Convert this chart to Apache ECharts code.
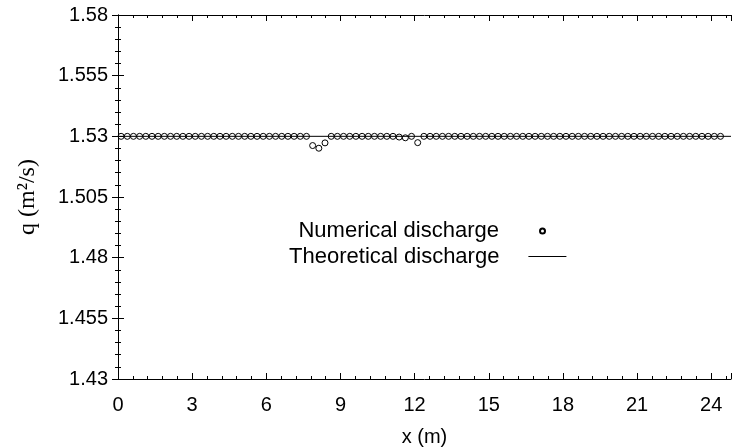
<!DOCTYPE html>
<html>
<head>
<meta charset="utf-8">
<script src="https://cdn.jsdelivr.net/npm/echarts@6/dist/echarts.min.js"></script>
<style>
  html, body { margin: 0; padding: 0; background: #fff; }
  #chart { width: 732px; height: 448px; }
</style>
</head>
<body>
<div id="chart"></div>
<script>
// Cell-centre positions along the channel (m)
const xPos = [
  0.125, 0.375, 0.625, 0.875, 1.125, 1.375, 1.625, 1.875, 2.125, 2.375,
  2.625, 2.875, 3.125, 3.375, 3.625, 3.875, 4.125, 4.375, 4.625, 4.875,
  5.125, 5.375, 5.625, 5.875, 6.125, 6.375, 6.625, 6.875, 7.125, 7.375,
  7.625, 7.875, 8.125, 8.375, 8.625, 8.875, 9.125, 9.375, 9.625, 9.875,
  10.125, 10.375, 10.625, 10.875, 11.125, 11.375, 11.625, 11.875, 12.125, 12.375,
  12.625, 12.875, 13.125, 13.375, 13.625, 13.875, 14.125, 14.375, 14.625, 14.875,
  15.125, 15.375, 15.625, 15.875, 16.125, 16.375, 16.625, 16.875, 17.125, 17.375,
  17.625, 17.875, 18.125, 18.375, 18.625, 18.875, 19.125, 19.375, 19.625, 19.875,
  20.125, 20.375, 20.625, 20.875, 21.125, 21.375, 21.625, 21.875, 22.125, 22.375,
  22.625, 22.875, 23.125, 23.375, 23.625, 23.875, 24.125, 24.375
];

// Computed unit discharge at each cell (m^2/s)
const numericalQ = [
  1.53, 1.53, 1.53, 1.53, 1.53, 1.53, 1.53, 1.53, 1.53, 1.53,
  1.53, 1.53, 1.53, 1.53, 1.53, 1.53, 1.53, 1.53, 1.53, 1.53,
  1.53, 1.53, 1.53, 1.53, 1.53, 1.53, 1.53, 1.53, 1.53, 1.53,
  1.53, 1.5262, 1.5251, 1.5273, 1.53, 1.53, 1.53, 1.53, 1.53, 1.53,
  1.53, 1.53, 1.53, 1.53, 1.53, 1.5297, 1.5294, 1.53, 1.5274, 1.53,
  1.53, 1.53, 1.53, 1.53, 1.53, 1.53, 1.53, 1.53, 1.53, 1.53,
  1.53, 1.53, 1.53, 1.53, 1.53, 1.53, 1.53, 1.53, 1.53, 1.53,
  1.53, 1.53, 1.53, 1.53, 1.53, 1.53, 1.53, 1.53, 1.53, 1.53,
  1.53, 1.53, 1.53, 1.53, 1.53, 1.53, 1.53, 1.53, 1.53, 1.53,
  1.53, 1.53, 1.53, 1.53, 1.53, 1.53, 1.53, 1.53
];

// Theoretical (constant) discharge line
const theoryX = [0, 24.8];
const theoryQ = [1.53, 1.53];

// Axis ranges and steps
const xRange = [0, 24.8];
const xStep = 3;
const yRange = [1.43, 1.58];
const yStep = 0.025;

const SANS = 'Liberation Sans';
const SERIF = 'Liberation Serif';

const chart = echarts.init(document.getElementById('chart'), null, { renderer: 'canvas' });

const baseAxisLine = { show: true, lineStyle: { color: '#000', width: 1 } };
const baseTick = { show: true, inside: true, length: 6, lineStyle: { color: '#000', width: 1 } };
const baseMinor = { show: true, splitNumber: 5, length: 3, lineStyle: { color: '#000', width: 1 } };

const option = {
  animation: false,
  backgroundColor: '#fff',
  grid: { left: 118, right: 1, top: 15, bottom: 69, containLabel: false, outerBoundsMode: 'none' },
  xAxis: [
    {
      type: 'value', position: 'bottom', min: xRange[0], max: xRange[1], interval: xStep,
      axisLine: baseAxisLine, axisTick: baseTick, minorTick: baseMinor,
      splitLine: { show: false },
      axisLabel: { color: '#000', fontFamily: SANS, fontSize: 20, margin: 16, showMaxLabel: false },
      name: 'x (m)', nameLocation: 'middle', nameGap: 48,
      nameTextStyle: { color: '#000', fontFamily: SANS, fontSize: 20 }
    },
    {
      type: 'value', position: 'top', min: xRange[0], max: xRange[1], interval: xStep,
      axisLine: baseAxisLine, axisTick: baseTick, minorTick: baseMinor,
      splitLine: { show: false }, axisLabel: { show: false }
    }
  ],
  yAxis: [
    {
      type: 'value', position: 'left', min: yRange[0], max: yRange[1], interval: yStep,
      axisLine: baseAxisLine, axisTick: baseTick, minorTick: baseMinor,
      splitLine: { show: false },
      axisLabel: { color: '#000', fontFamily: SANS, fontSize: 20, margin: 10 },
      name: 'q (m²/s)', nameLocation: 'middle', nameGap: 78, nameRotate: 90,
      nameTextStyle: { color: '#000', fontFamily: SERIF, fontSize: 24 }
    },
    {
      type: 'value', position: 'right', min: yRange[0], max: yRange[1], interval: yStep,
      axisLine: baseAxisLine, axisTick: baseTick, minorTick: baseMinor,
      splitLine: { show: false }, axisLabel: { show: false }
    }
  ],
  legend: [
    {
      data: ['Numerical discharge'], orient: 'vertical', align: 'right',
      right: 186, top: 220, padding: 0,
      itemWidth: 5, itemHeight: 5,
      textStyle: { color: '#000', fontFamily: SANS, fontSize: 22, padding: [0, 36, 0, 0] }
    },
    {
      data: ['Theoretical discharge'], orient: 'vertical', align: 'right',
      right: 165, top: 245.5, padding: 0,
      itemWidth: 38, itemHeight: 5,
      itemStyle: { color: 'rgba(0,0,0,0)', borderWidth: 0 },
      lineStyle: { color: '#000', width: 1.2 },
      textStyle: { color: '#000', fontFamily: SANS, fontSize: 22, padding: [0, 24, 0, 0] }
    }
  ],
  series: [
    {
      name: 'Theoretical discharge', type: 'line',
      xAxisIndex: 0, yAxisIndex: 0,
      data: theoryX.map((x, i) => [x, theoryQ[i]]),
      symbol: 'none', showSymbol: false,
      lineStyle: { color: '#000', width: 1 },
      itemStyle: { color: 'rgba(0,0,0,0)', borderWidth: 0 },
      z: 2
    },
    {
      name: 'Numerical discharge', type: 'scatter',
      xAxisIndex: 0, yAxisIndex: 0,
      data: xPos.map((x, i) => [x, numericalQ[i]]),
      symbol: 'circle', symbolSize: 6,
      itemStyle: { color: 'rgba(0,0,0,0)', borderColor: '#000', borderWidth: 1, opacity: 1 },
      z: 3
    }
  ]
};

chart.setOption(option);
</script>
</body>
</html>
